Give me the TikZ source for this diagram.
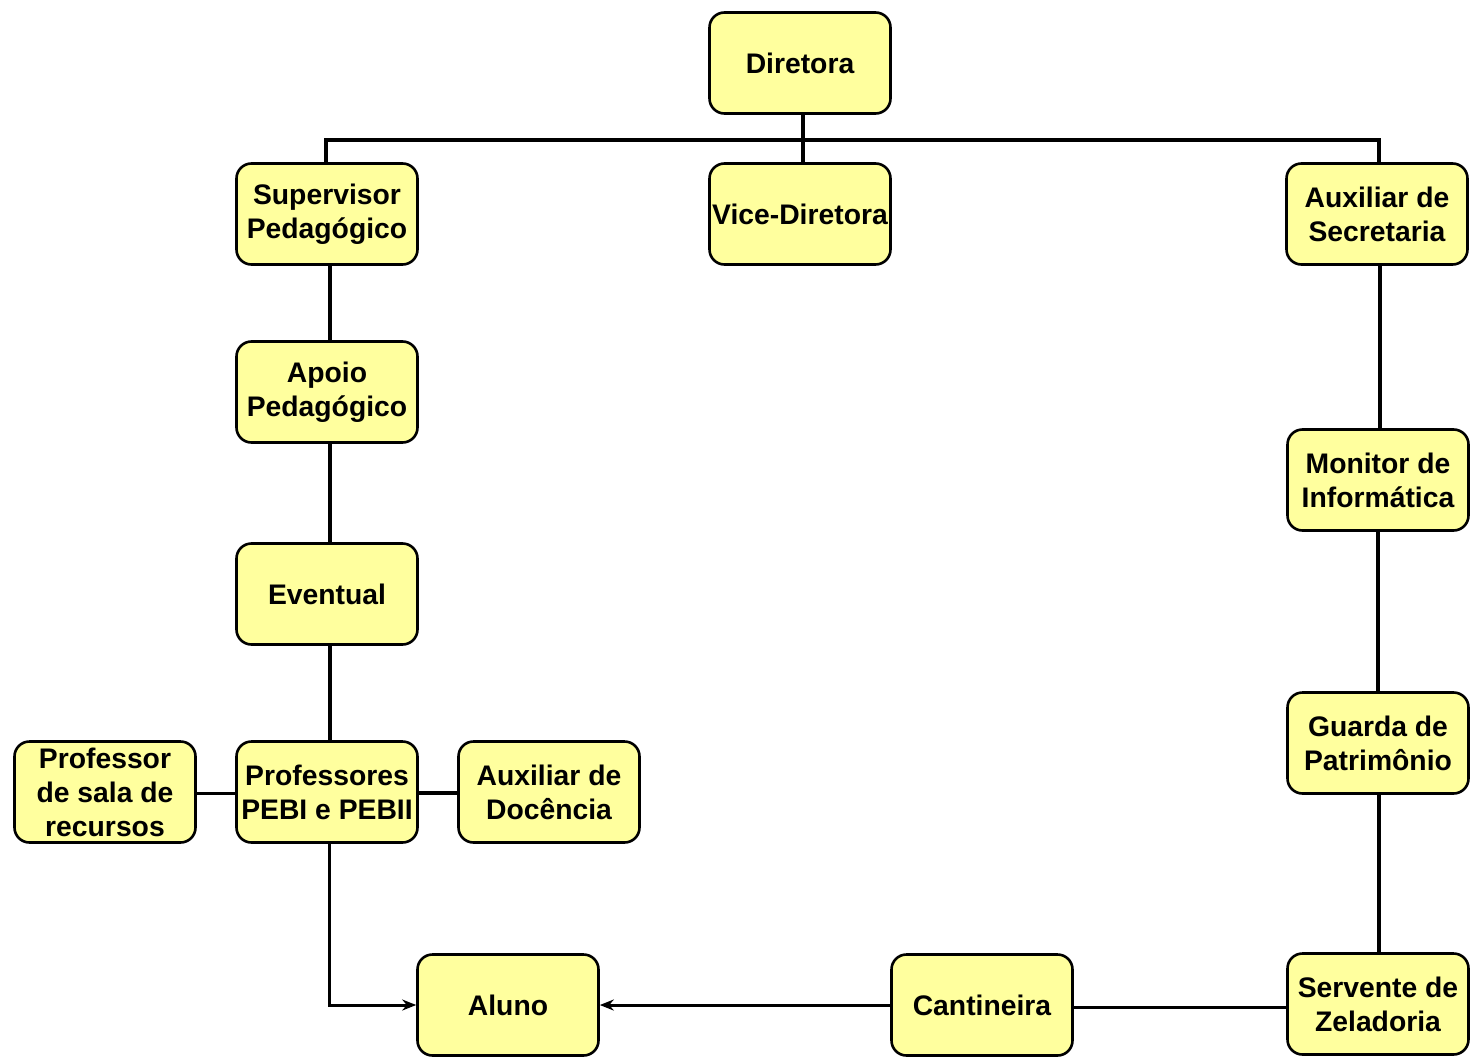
\documentclass[tikz,border=0pt]{standalone}
\usepackage{fontspec}
\setmainfont{Liberation Sans}
\usetikzlibrary{arrows.meta}
\definecolor{boxfill}{RGB}{255,255,158}
\begin{document}
\begin{tikzpicture}[x=1pt,y=-1pt,
  orgbox/.style={draw=black, line width=2.6pt, fill=boxfill, rounded corners=15pt,
    minimum width=181pt, minimum height=101pt, inner sep=0pt, align=center,
    font=\bfseries\fontsize{28.3}{34}\selectfont},
  heavylink/.style={draw=black, line width=3.8pt},
  lightlink/.style={draw=black, line width=3pt},
  arrlink/.style={draw=black, line width=3pt, -{Stealth[length=14pt,width=11pt]}}]
\useasboundingbox[fill=white] (0,0) rectangle (1470,1057);
\node[orgbox] (dir) at (800,63) {Diretora};
\node[orgbox] (sup) at (327,214) {Supervisor\\Pedagógico};
\node[orgbox] (vice) at (800,214) {Vice-Diretora};
\node[orgbox] (sec) at (1377,214) {Auxiliar de\\Secretaria};
\node[orgbox] (apoio) at (327,392) {Apoio\\Pedagógico};
\node[orgbox] (event) at (327,594) {Eventual};
\node[orgbox] (prof) at (327,792) {Professores\\PEBI e PEBII};
\node[orgbox] (rec) at (105,792) {Professor\\de sala de\\recursos};
\node[orgbox] (doc) at (549,792) {Auxiliar de\\Docência};
\node[orgbox] (mon) at (1378,480) {Monitor de\\Informática};
\node[orgbox] (guar) at (1378,743) {Guarda de\\Patrimônio};
\node[orgbox] (serv) at (1378,1004) {Servente de\\Zeladoria};
\node[orgbox] (cant) at (982,1005) {Cantineira};
\node[orgbox] (aluno) at (508,1005) {Aluno};
\coordinate (bus) at (803,140);
\path[heavylink] (dir.south -| bus) -- (bus);
\path[heavylink] (sup.north -| 326,0) |- (bus) -| (sec.north -| 1379,0);
\path[heavylink] (bus) -- (vice.north -| bus);
\path[heavylink] (sup.south -| 330,0) -- (apoio.north -| 330,0);
\path[heavylink] (apoio.south -| 330,0) -- (event.north -| 330,0);
\path[heavylink] (event.south -| 330,0) -- (prof.north -| 330,0);
\path[lightlink] (rec.east |- 0,793) -- (prof.west |- 0,793);
\path[heavylink] (prof.east |- 0,793) -- (doc.west |- 0,793);
\path[arrlink] (prof.south -| 329,0) |- (aluno.west);
\path[arrlink] (cant.west) -- (aluno.east);
\path[lightlink] (serv.west |- 0,1007) -- (cant.east |- 0,1007);
\path[heavylink] (sec.south -| 1380,0) -- (mon.north -| 1380,0);
\path[heavylink] (mon.south -| 1378,0) -- (guar.north -| 1378,0);
\path[heavylink] (guar.south -| 1379,0) -- (serv.north -| 1379,0);
\end{tikzpicture}
\end{document}
